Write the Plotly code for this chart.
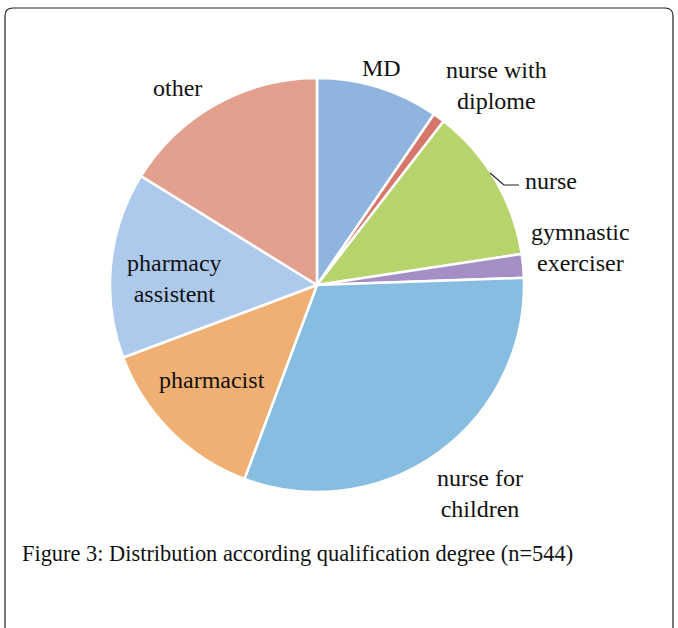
import plotly.graph_objects as go

W, H = 678, 628

# qualification groups, clockwise from 12 o'clock (n=544)
labels = ['MD', 'nurse with diplome', 'nurse', 'gymnastic exerciser',
          'nurse for children', 'pharmacist', 'pharmacy assistent', 'other']
counts = [52, 5, 66, 10, 170, 74, 79, 88]
colors = ['#8fb4e0', '#d7766a', '#b7d36c', '#a58dc6',
          '#86bde0', '#f1b073', '#adc9ec', '#e4a08f']

caption = 'Figure 3: Distribution according qualification degree (n=544)'


def px(x):
    return x / W


def py(y):
    return 1 - y / H


cx, cy, r = 317, 285, 207

fig = go.Figure(go.Pie(
    labels=labels,
    values=counts,
    sort=False,
    direction='clockwise',
    rotation=0,
    textinfo='none',
    hoverinfo='label+value+percent',
    marker={'colors': colors, 'line': {'color': 'white', 'width': 2.5}},
    domain={'x': [px(cx - r), px(cx + r)], 'y': [py(cy + r), py(cy - r)]},
    showlegend=False,
))

serif = '"Liberation Serif", "Times New Roman", serif'
label_pos = [
    ('MD', 382, 68),
    ('nurse with<br>diplome', 497, 86),
    ('nurse', 551, 181),
    ('gymnastic<br>exerciser', 580, 247),
    ('nurse for<br>children', 480, 493),
    ('pharmacist', 212, 380),
    ('pharmacy<br>assistent', 175, 278),
    ('other', 177, 88),
]
annotations = [
    dict(text=t, x=px(x), y=py(y), xref='paper', yref='paper',
         xanchor='center', yanchor='middle',
         showarrow=False, font={'family': serif, 'size': 24, 'color': '#111'},
         align='center')
    for t, x, y in label_pos
]
annotations.append(dict(
    text=caption, x=px(20), y=py(553), xref='paper', yref='paper',
    xanchor='left', yanchor='middle', showarrow=False,
    font={'family': serif, 'size': 22.4, 'color': '#111'},
))

x0, y0, x1, y1, k = 5, 8, 673, 660, 8
border = (f'M {px(x0)},{py(y0 + k)} Q {px(x0)},{py(y0)} {px(x0 + k)},{py(y0)} '
          f'L {px(x1 - k)},{py(y0)} Q {px(x1)},{py(y0)} {px(x1)},{py(y0 + k)} '
          f'L {px(x1)},{py(y1)} L {px(x0)},{py(y1)} Z')
leader = f'M {px(490)},{py(173)} L {px(504)},{py(185)} L {px(519)},{py(185)}'

fig.update_layout(
    width=W, height=H,
    margin={'l': 0, 'r': 0, 't': 0, 'b': 0},
    paper_bgcolor='white',
    annotations=annotations,
    shapes=[
        dict(type='path', path=border, xref='paper', yref='paper',
             line={'color': '#222', 'width': 1.2}),
        dict(type='path', path=leader, xref='paper', yref='paper',
             line={'color': '#222', 'width': 1.2}),
    ],
)

fig.write_html('out.html',
               config={'displayModeBar': False},
               post_script="document.body.style.margin='0';"
                           "document.body.style.overflow='hidden';")
